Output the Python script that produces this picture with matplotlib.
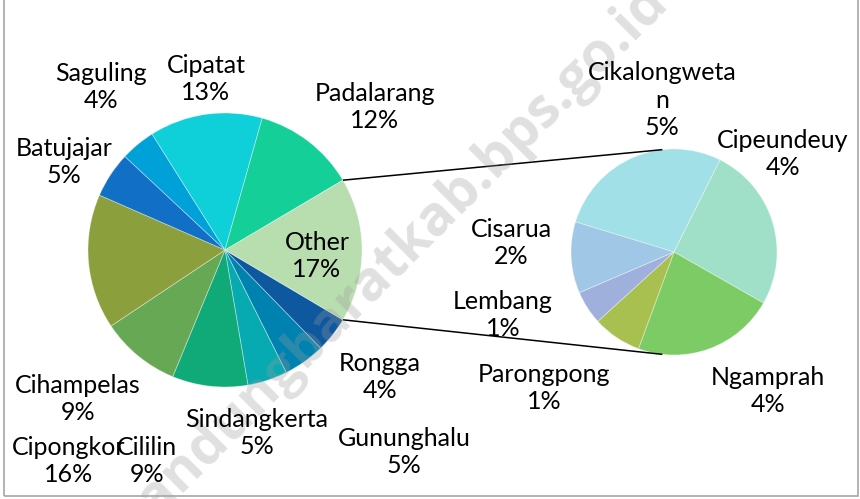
import textwrap

import matplotlib

matplotlib.use("Agg")  # Non-interactive backend

import matplotlib.pyplot as plt
import numpy as np
from matplotlib.patches import Rectangle

W, H = 860, 499

# Main pie, clockwise from the bottom edge of "Other"
main_names = ["Rongga", "Gununghalu", "Sindangkerta", "Cililin", "Cihampelas",
              "Cipongkor", "Batujajar", "Saguling", "Cipatat", "Padalarang"]
main_values = [4.2, 4.9, 4.7, 8.9, 9.4, 15.9, 5.4, 4.1, 13.3, 12.1]
main_colors = ["#0E58A0", "#0082B0", "#08AAB2", "#10AA78", "#67A855",
               "#8BA03C", "#1170C6", "#00A0D8", "#0FCFD8", "#14CF98"]

# Secondary pie ("Other" broken down), clockwise
other_names = ["Cikalongwetan", "Cipeundeuy", "Ngamprah", "Parongpong", "Lembang", "Cisarua"]
other_values = [4.7, 4.4, 3.8, 1.3, 0.9, 1.9]
other_colors = ["#A0E0E6", "#A0E0C8", "#7DCB64", "#A8C050", "#A0B0DC", "#A0C8E6"]
other_label = "Other"
other_color = "#B8DEB0"

# label centres in image pixels (x, y from top)
label_pos = {
    "Rongga": (380, 377), "Gununghalu": (404, 452), "Sindangkerta": (257, 433),
    "Cililin": (147, 461), "Cihampelas": (78, 399), "Cipongkor": (69, 461),
    "Batujajar": (64, 162), "Saguling": (101, 87), "Cipatat": (206, 79),
    "Padalarang": (375, 107), "Other": (317, 256),
    "Cikalongwetan": (662, 100), "Cipeundeuy": (783, 154), "Ngamprah": (768, 391),
    "Parongpong": (544, 388), "Lembang": (503, 315), "Cisarua": (511, 243),
}

main_center, main_r = (225, H - 250), 137
sub_center, sub_r = (674, H - 252), 103
sub_start = 163
link_angle = 96.5

plt.rcParams["font.family"] = ["Lato", "DejaVu Sans"]

fig = plt.figure(figsize=(W / 100, H / 100), dpi=100)
ax = fig.add_axes([0, 0, 1, 1])

other_total = sum(other_values)
pie_values = main_values + [other_total]
pie_names = main_names + [other_label]
total = sum(pie_values)
half = 180 * other_total / total

edge = {"linewidth": 0.6, "edgecolor": (1, 1, 1, 0.4)}
ax.pie(pie_values, colors=main_colors + [other_color], center=main_center,
       radius=main_r, startangle=-half, counterclock=False, wedgeprops=edge)
ax.pie(other_values, colors=other_colors, center=sub_center, radius=sub_r,
       startangle=sub_start, counterclock=False, wedgeprops=edge)

ax.set_xlim(0, W)
ax.set_ylim(0, H)
ax.set_aspect("auto")
ax.axis("off")

# connector lines between the pies
for sign in (1, -1):
    a1 = np.radians(sign * half)
    a2 = np.radians(sign * link_angle)
    x1 = main_center[0] + main_r * np.cos(a1)
    y1 = main_center[1] + main_r * np.sin(a1)
    x2 = sub_center[0] + sub_r * np.cos(a2)
    y2 = sub_center[1] + sub_r * np.sin(a2)
    ax.plot([x1, x2], [y1, y2], color="black", lw=1.1, solid_capstyle="butt")

# watermark (clipped by the chart edges, as in the source)
ax.text(390, H - 262, "bandungbaratkab.bps.go.id", rotation=45, fontsize=40,
        fontweight="bold", color="#9A9A9A", alpha=0.3, ha="center", va="center",
        family="Open Sans", zorder=5, rotation_mode="anchor")

# data labels
for name, value in zip(pie_names + other_names, pie_values + other_values):
    x, y = label_pos[name]
    txt = f"{textwrap.fill(name, 12)}\n{100 * value / total:.0f}%"
    ax.text(x, H - y, txt, ha="center", va="center", fontsize=18,
            linespacing=1.22, color="black", zorder=6)

# chart border
fig.patches.append(Rectangle((4, 3), 854, 500, transform=None, fill=False,
                             edgecolor="#A6A6A6", lw=1.2))

fig.savefig("out.png", dpi=100)
